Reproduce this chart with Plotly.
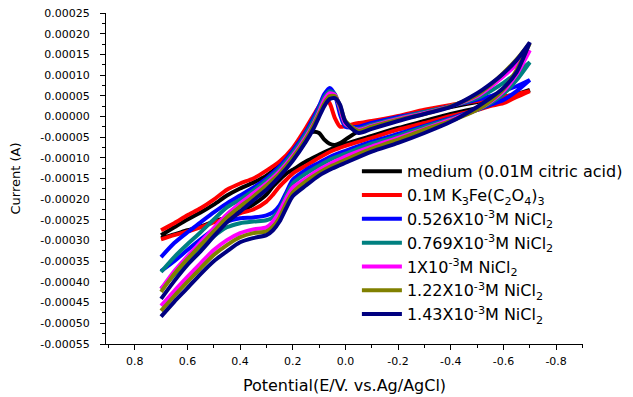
import plotly.graph_objects as go

# ---------------- data ----------------
# potentials in V (vs Ag/AgCl); forward sweep 0.7 -> -0.7, reverse -0.7 -> 0.7
potential_fwd = [0.70, 0.65, 0.60, 0.55, 0.50, 0.45, 0.40, 0.35, 0.30, 0.25, 0.20,
                 0.15, 0.12, 0.10, 0.08, 0.06, 0.04, 0.02, 0.00, -0.05, -0.10,
                 -0.20, -0.30, -0.40, -0.50, -0.55, -0.60, -0.65, -0.70]
potential_rev = [-0.70, -0.65, -0.60, -0.55, -0.50, -0.40, -0.30, -0.20, -0.10,
                 0.00, 0.05, 0.10, 0.15, 0.20, 0.225, 0.25, 0.275, 0.30, 0.35,
                 0.40, 0.45, 0.50, 0.55, 0.60, 0.65, 0.70]

CURRENT_UNIT = 1e-5  # current lists below are in units of 1e-5 A

black_fwd = [-28.7, -26.8, -24.9, -23.2, -21.3, -19.1, -17.4, -16.0, -14.3, -11.7, -8.3,
             -4.4, -3.7, -4.0, -5.6, -6.6, -6.9, -6.4, -5.6, -3.5, -2.0,
             -0.4, 1.1, 2.3, 3.5, 4.0, 4.7, 5.4, 6.4]
black_rev = [6.4, 4.9, 3.7, 2.8, 2.0, 0.6, -1.1, -2.8, -4.7,
             -6.6, -7.8, -9.3, -10.9, -12.9, -13.8, -15.3, -16.9, -18.9, -21.3,
             -23.0, -24.4, -25.4, -26.6, -27.5, -28.5, -29.4]

red_fwd = [-27.5, -25.8, -23.9, -22.2, -20.1, -17.7, -16.2, -15.0, -13.1, -10.9, -7.6,
           -2.8, 0.4, 2.5, 4.4, 3.2, -0.4, -2.5, -2.3, -1.6, -1.1,
           0.1, 1.6, 2.8, 3.7, 4.2, 4.7, 5.4, 6.1]
red_rev = [6.1, 4.7, 3.2, 2.5, 1.6, 0.1, -1.6, -3.2, -5.2,
           -7.1, -8.3, -10.0, -11.9, -13.8, -15.3, -16.9, -18.9, -20.6, -22.5,
           -23.4, -24.6, -25.6, -26.8, -27.8, -28.7, -29.7]

blue_fwd = [-34.0, -30.6, -28.0, -25.6, -23.2, -21.0, -19.1, -17.2, -15.0, -12.1, -8.3,
            -3.7, -0.1, 2.5, 5.4, 6.9, 5.2, 0.4, -2.5, -2.5, -1.6,
            -0.1, 1.1, 2.5, 4.0, 4.9, 6.1, 7.3, 8.8]
blue_rev = [8.8, 6.1, 4.0, 2.8, 1.6, -0.4, -2.3, -4.2, -6.1,
            -8.3, -9.5, -11.2, -12.9, -15.3, -18.4, -21.5, -23.2, -23.9, -24.4,
            -24.6, -25.4, -27.3, -29.7, -32.3, -35.0, -37.4]

teal_fwd = [-37.6, -34.0, -30.9, -28.0, -24.9, -22.0, -20.1, -17.9, -15.5, -12.6, -8.8,
            -4.2, -0.8, 1.8, 4.7, 6.1, 5.4, 1.6, -2.0, -3.0, -2.0,
            -0.4, 1.1, 2.5, 4.4, 6.1, 8.1, 10.5, 13.1]
teal_rev = [13.1, 8.8, 5.4, 3.2, 1.6, -0.6, -2.5, -4.7, -6.6,
            -9.0, -10.2, -11.9, -13.8, -16.2, -19.1, -22.5, -24.4, -25.1, -25.4,
            -25.8, -26.8, -29.0, -31.9, -35.0, -38.3, -41.7]

magenta_fwd = [-41.7, -37.4, -33.8, -30.4, -27.0, -23.7, -21.0, -18.6, -16.2, -13.3, -9.5,
               -4.9, -1.6, 1.1, 4.0, 5.6, 5.2, 2.0, -1.8, -3.2, -2.3,
               -0.6, 0.8, 2.5, 4.9, 7.1, 9.7, 12.6, 16.0]
magenta_rev = [16.0, 10.2, 6.1, 3.5, 1.6, -0.8, -3.0, -5.2, -7.3,
               -9.7, -11.2, -12.9, -15.0, -17.2, -19.8, -23.0, -25.4, -26.8, -27.3,
               -28.2, -29.9, -32.3, -35.5, -38.8, -42.2, -45.8]

olive_fwd = [-42.4, -38.1, -34.5, -31.1, -27.8, -24.4, -21.8, -19.4, -16.7, -13.8, -10.0,
             -5.4, -2.0, 0.6, 3.2, 4.9, 4.9, 2.5, -1.1, -3.5, -2.5,
             -0.8, 0.6, 2.5, 5.2, 7.6, 10.5, 13.8, 17.7]
olive_rev = [17.7, 11.2, 6.6, 3.7, 1.6, -1.1, -3.2, -5.6, -7.8,
             -10.5, -11.9, -13.6, -15.7, -18.4, -21.0, -24.4, -26.6, -27.8, -28.2,
             -29.2, -31.1, -33.5, -36.7, -40.0, -43.4, -47.0]

navy_fwd = [-44.1, -39.8, -35.9, -32.6, -29.0, -25.6, -23.0, -20.3, -17.7, -14.5, -10.7,
            -6.1, -2.8, -0.1, 2.5, 4.2, 4.4, 2.8, -1.3, -4.0, -3.0,
            -1.1, 0.6, 2.3, 5.6, 7.8, 10.4, 13.6, 17.9]
navy_rev = [17.9, 10.7, 6.9, 4.4, 2.3, -1.3, -4.0, -6.4, -8.5,
            -11.2, -12.6, -14.3, -16.7, -19.3, -22.2, -25.4, -27.5, -28.7, -29.4,
            -30.4, -32.6, -35.0, -38.1, -41.5, -44.8, -48.4]

series_names = [
    "medium (0.01M citric acid)",
    "0.1M K<sub>3</sub>Fe(C<sub>2</sub>O<sub>4</sub>)<sub>3</sub>",
    "0.526X10<sup>-3</sup>M NiCl<sub>2</sub>",
    "0.769X10<sup>-3</sup>M NiCl<sub>2</sub>",
    "1X10<sup>-3</sup>M NiCl<sub>2</sub>",
    "1.22X10<sup>-3</sup>M NiCl<sub>2</sub>",
    "1.43X10<sup>-3</sup>M NiCl<sub>2</sub>",
]
series_fwd = [black_fwd, red_fwd, blue_fwd, teal_fwd, magenta_fwd, olive_fwd, navy_fwd]
series_rev = [black_rev, red_rev, blue_rev, teal_rev, magenta_rev, olive_rev, navy_rev]
series_colors = ["#000000", "#FF0000", "#0000FF", "#008080", "#FF00FF", "#808000", "#000080"]

y_tick_values = [-0.00055, -0.00050, -0.00045, -0.00040, -0.00035, -0.00030, -0.00025,
                 -0.00020, -0.00015, -0.00010, -0.00005, 0.0, 0.00005, 0.00010,
                 0.00015, 0.00020, 0.00025]
y_tick_labels = ["-0.00055", "-0.00050", "-0.00045", "-0.00040", "-0.00035", "-0.00030",
                 "-0.00025", "-0.00020", "-0.00015", "-0.00010", "-0.00005", "0.00000",
                 "0.00005", "0.00010", "0.00015", "0.00020", "0.00025"]
x_tick_values = [0.8, 0.6, 0.4, 0.2, 0.0, -0.2, -0.4, -0.6, -0.8]
x_tick_labels = ["0.8", "0.6", "0.4", "0.2", "0.0", "-0.2", "-0.4", "-0.6", "-0.8"]

# ---------------- figure ----------------
# the page adds an 8px body margin, so the figure is 8px smaller than the window
FONT = "DejaVu Sans, Arial, sans-serif"
fig = go.Figure()
for name, fwd, rev, color in zip(series_names, series_fwd, series_rev, series_colors):
    xs = potential_fwd + potential_rev
    ys = [v * CURRENT_UNIT for v in fwd + rev]
    fig.add_trace(go.Scatter(
        x=xs, y=ys, mode="lines", name=name,
        line=dict(color=color, width=4, shape="spline", smoothing=0.7),
    ))

fig.update_layout(
    width=625, height=389,
    margin=dict(l=98, r=44, t=5, b=53),
    paper_bgcolor="white", plot_bgcolor="white",
    font=dict(family=FONT, color="black"),
    showlegend=True,
    legend=dict(
        x=0.526, y=0.573, xanchor="left", yanchor="top",
        bgcolor="rgba(0,0,0,0)", borderwidth=0,
        font=dict(family=FONT, size=16, color="black"),
        itemwidth=40,
    ),
)

fig.update_xaxes(
    range=[0.909, -0.902], autorange=False,
    showline=True, linecolor="black", linewidth=1, mirror=False,
    showgrid=False, zeroline=False,
    tickmode="array", tickvals=x_tick_values, ticktext=x_tick_labels,
    ticks="outside", ticklen=5, tickwidth=1, tickcolor="black",
    ticklabelstandoff=2, ticklabeloverflow="allow",
    tickfont=dict(family=FONT, size=11, color="black"),
    minor=dict(ticks="outside", ticklen=3, tickwidth=1, tickcolor="black",
               tickmode="linear", tick0=0.0, dtick=0.1),
    title=dict(text="Potential(E/V. vs.Ag/AgCl)", standoff=12,
               font=dict(family=FONT, size=16, color="black")),
    automargin=False,
)
fig.update_yaxes(
    range=[-0.00055, 0.00025], autorange=False,
    showline=True, linecolor="black", linewidth=1, mirror=False,
    showgrid=False, zeroline=False,
    tickmode="array", tickvals=y_tick_values, ticktext=y_tick_labels,
    ticks="outside", ticklen=5, tickwidth=1, tickcolor="black",
    ticklabelstandoff=8, ticklabeloverflow="allow",
    tickfont=dict(family=FONT, size=11, color="black"),
    minor=dict(ticks="outside", ticklen=3, tickwidth=1, tickcolor="black",
               tickmode="linear", tick0=0.0, dtick=0.000025),
    title=dict(text="Current (A)", standoff=23,
               font=dict(family=FONT, size=13, color="black")),
    automargin=False,
)

fig.write_html("out.html")
